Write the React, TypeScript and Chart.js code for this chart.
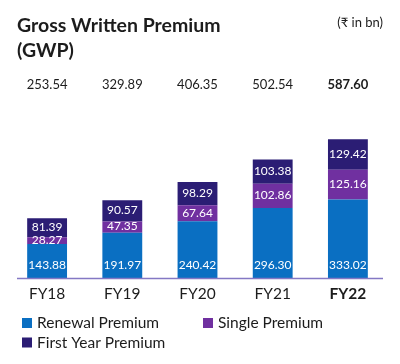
import React, { useEffect, useRef } from "react";
import { Chart, registerables } from "chart.js";
Chart.register(...registerables);

const categories = ["FY18", "FY19", "FY20", "FY21", "FY22"];
const renewal = [143.88, 191.97, 240.42, 296.3, 333.02];
const single = [28.27, 47.35, 67.64, 102.86, 125.16];
const firstYear = [81.39, 90.57, 98.29, 103.38, 129.42];
const totals = ["253.54", "329.89", "406.35", "502.54", "587.60"];
const seriesNames = ["Renewal Premium", "Single Premium", "First Year Premium"];
const seriesColors = ["#0a6fc2", "#7030a0", "#2b1d74"];
const titleLines = ["Gross Written Premium", "(GWP)"];
const unitLabel = "(₹ in bn)";

const FONT = "Lato, 'Noto Sans', sans-serif";
const TEXT = "#1c1c1c";

const overlay = {
  id: "overlay",
  afterDatasetsDraw(chart: any) {
    const ctx = chart.ctx as CanvasRenderingContext2D;
    ctx.save();
    ctx.fillStyle = "#ffffff";
    ctx.font = `12px ${FONT}`;
    ctx.textAlign = "center";
    ctx.textBaseline = "middle";
    chart.data.datasets.forEach((ds: any, di: number) => {
      const meta = chart.getDatasetMeta(di);
      meta.data.forEach((bar: any, i: number) => {
        const v = ds.data[i] as number;
        const top = Math.min(bar.y, bar.base);
        const bottom = Math.max(bar.y, bar.base);
        const y = di === 0 ? bottom - 13 : (top + bottom) / 2 - 0.5;
        ctx.fillText(v.toFixed(2), bar.x, y);
      });
    });
    ctx.restore();
  },
  afterDraw(chart: any) {
    const ctx = chart.ctx as CanvasRenderingContext2D;
    const xs = chart.scales.x;
    const area = chart.chartArea;
    ctx.save();
    // baseline
    ctx.strokeStyle = "#8478c4";
    ctx.lineWidth = 1.5;
    ctx.beginPath();
    ctx.moveTo(17, area.bottom + 0.5);
    ctx.lineTo(383, area.bottom + 0.5);
    ctx.stroke();

    ctx.fillStyle = TEXT;
    ctx.textBaseline = "alphabetic";
    // title
    ctx.textAlign = "left";
    ctx.font = `bold 19.5px ${FONT}`;
    ctx.fillText(titleLines[0], 17, 32);
    ctx.fillText(titleLines[1], 17, 57);
    // unit
    ctx.textAlign = "right";
    ctx.font = `13px ${FONT}`;
    ctx.fillText(unitLabel, 383, 27);

    // totals & category labels
    ctx.textAlign = "center";
    categories.forEach((c, i) => {
      const x = xs.getPixelForValue(i);
      const last = i === categories.length - 1;
      ctx.font = `${last ? "bold " : ""}13px ${FONT}`;
      ctx.fillText(totals[i], x, 89);
      ctx.font = `${last ? "bold " : ""}15.5px ${FONT}`;
      ctx.fillText(c, x, 299);
    });

    // legend
    const items = [
      { x: 22, y: 318 },
      { x: 203, y: 318 },
      { x: 22, y: 337.5 },
    ];
    ctx.textAlign = "left";
    ctx.font = `15.5px ${FONT}`;
    items.forEach((p, i) => {
      ctx.fillStyle = seriesColors[i];
      ctx.fillRect(p.x, p.y, 10, 10);
      ctx.fillStyle = TEXT;
      ctx.fillText(seriesNames[i], p.x + 15, p.y + 10.3);
    });
    ctx.restore();
  },
};

export default function App() {
  const ref = useRef<HTMLCanvasElement>(null);
  useEffect(() => {
    if (!ref.current) return;
    const chart = new Chart(ref.current, {
      type: "bar",
      data: {
        labels: categories,
        datasets: [renewal, single, firstYear].map((d, i) => ({
          label: seriesNames[i],
          data: d,
          backgroundColor: seriesColors[i],
          borderWidth: 0,
          categoryPercentage: 1,
          barPercentage: 0.53,
        })),
      },
      options: {
        responsive: false,
        maintainAspectRatio: false,
        animation: false,
        layout: { padding: { top: 101, bottom: 86, left: 9.5, right: 14.5 } },
        scales: {
          x: { display: false, stacked: true },
          y: { display: false, stacked: true, min: 0, max: 750 },
        },
        plugins: { legend: { display: false }, tooltip: { enabled: false } },
      },
      plugins: [overlay],
    });
    return () => chart.destroy();
  }, []);
  return (
    <div style={{ position: "absolute", left: 0, top: 0, width: 400, height: 364, background: "#fff" }}>
      <canvas ref={ref} width={400} height={364} />
    </div>
  );
}
